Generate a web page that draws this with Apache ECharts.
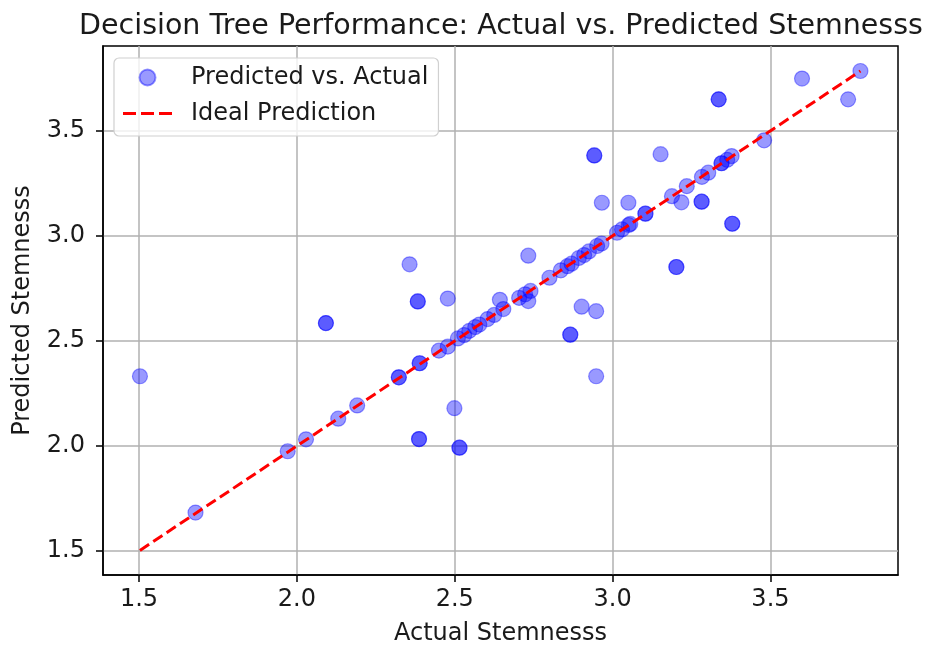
<!DOCTYPE html>
<html style="height: 100%">
<head>
    <meta charset="utf-8">
</head>
<body style="height: 100%; margin: 0; background-color: #fff">
<div id="container" style="height: 648px; width: 928px"></div>
<script type="text/javascript" src="https://cdn.jsdelivr.net/npm/echarts@6/dist/echarts.min.js"></script>
<script type="text/javascript">
// actual vs predicted stemness
var actual = [
    1.503, 2.092, 2.092, 2.357, 2.383, 2.383, 2.478, 2.387, 2.387, 2.499,
    2.515, 2.515, 2.733, 2.902, 2.948, 2.866, 2.866, 2.948, 2.942, 2.942,
    3.152, 3.336, 3.336, 3.600, 3.746, 3.202, 3.202, 3.282, 3.282, 3.379,
    3.379, 2.966, 3.050, 3.218, 2.643, 2.654, 2.733, 3.480,
    1.679, 1.971, 2.029, 2.131, 2.191, 2.323, 2.323, 2.389, 2.389, 2.450,
    2.478, 2.510, 2.530, 2.546, 2.565, 2.578, 2.604, 2.625, 2.704, 2.723,
    2.740, 2.800, 2.836, 2.857, 2.870, 2.893, 2.910, 2.925, 2.951, 2.965,
    3.014, 3.030, 3.051, 3.056, 3.104, 3.104, 3.188, 3.235, 3.283, 3.303,
    3.345, 3.345, 3.363, 3.377, 3.785
];
var predicted = [
    2.332, 2.585, 2.585, 2.865, 2.688, 2.688, 2.702, 2.033, 2.033, 2.180,
    1.992, 1.992, 2.906, 2.663, 2.642, 2.530, 2.530, 2.332, 3.383, 3.383,
    3.389, 3.650, 3.650, 3.749, 3.650, 2.852, 2.852, 3.163, 3.163, 3.058,
    3.058, 3.158, 3.158, 3.160, 2.696, 2.652, 2.690, 3.455,
    1.683, 1.975, 2.032, 2.130, 2.193, 2.327, 2.327, 2.394, 2.394, 2.454,
    2.473, 2.512, 2.528, 2.548, 2.566, 2.578, 2.604, 2.624, 2.705, 2.722,
    2.738, 2.801, 2.836, 2.856, 2.868, 2.895, 2.909, 2.926, 2.952, 2.964,
    3.015, 3.031, 3.052, 3.057, 3.106, 3.106, 3.189, 3.237, 3.281, 3.301,
    3.346, 3.346, 3.362, 3.380, 3.785
];
var idealX = [1.503, 3.785];
var idealY = [1.503, 3.785];
var xTicks = [1.5, 2.0, 2.5, 3.0, 3.5];
var yTicks = [1.5, 2.0, 2.5, 3.0, 3.5];

var dom = document.getElementById("container");
var myChart = echarts.init(dom);
var font = "'DejaVu Sans', sans-serif";
var txt = '#1a1a1a';

var pts = [];
for (var i = 0; i < actual.length; i++) {
    pts.push([actual[i], predicted[i]]);
}
var ideal = [];
for (var j = 0; j < idealX.length; j++) {
    ideal.push([idealX[j], idealY[j]]);
}

function axisOpt(name, ticks, isY) {
    return {
        type: 'value',
        name: name,
        nameLocation: 'middle',
        nameGap: isY ? 68 : 47,
        nameTextStyle: {fontFamily: font, fontSize: 24, color: txt},
        min: 1.386,
        max: 3.904,
        axisLine: {show: true, lineStyle: {color: '#000', width: 1.5}},
        axisTick: {show: true, length: 7, lineStyle: {color: '#000', width: 1.5}, customValues: ticks},
        axisLabel: {
            fontFamily: font, fontSize: 24, color: txt,
            margin: isY ? 18 : 13,
            customValues: ticks,
            formatter: function (v) { return v.toFixed(1); }
        },
        splitLine: {show: true, lineStyle: {color: '#b0b0b0', width: 1.5}}
    };
}

var option = {
    animation: false,
    title: {
        text: 'Decision Tree Performance: Actual vs. Predicted Stemnesss',
        left: 496,
        textAlign: 'center',
        top: 7,
        textStyle: {fontFamily: font, fontSize: 28.5, fontWeight: 'normal', color: txt}
    },
    grid: {
        left: 103, right: 30, top: 46, bottom: 73,
        containLabel: false,
        outerBoundsMode: 'none',
        show: true, borderColor: '#000', borderWidth: 1.5, backgroundColor: 'transparent'
    },
    legend: {
        orient: 'vertical',
        left: 114,
        top: 58,
        padding: [6, 10, 9, 9],
        itemGap: 9,
        itemWidth: 49,
        itemHeight: 16,
        backgroundColor: 'rgba(255,255,255,0.8)',
        borderColor: '#d0d0d0',
        borderWidth: 1.2,
        borderRadius: 5,
        textStyle: {fontFamily: font, fontSize: 24, color: txt, lineHeight: 27, padding: [0, 0, 0, 14]},
        data: [
            {name: 'Predicted vs. Actual', icon: 'circle'},
            {name: 'Ideal Prediction', icon: 'path://M0,0h13v3h-13z M18,0h13v3h-13z M36,0h13v3h-13z'}
        ]
    },
    xAxis: axisOpt('Actual Stemnesss', xTicks, false),
    yAxis: axisOpt('Predicted Stemnesss', yTicks, true),
    series: [
        {
            name: 'Predicted vs. Actual',
            type: 'scatter',
            symbolSize: 15,
            itemStyle: {color: 'rgba(0,0,255,0.5)', borderColor: 'rgba(0,0,255,0.5)', borderWidth: 1.2},
            data: pts,
            z: 2
        },
        {
            name: 'Ideal Prediction',
            type: 'line',
            showSymbol: false,
            symbol: 'none',
            lineStyle: {color: 'red', width: 3, type: [11, 5]},
            itemStyle: {color: 'red'},
            data: ideal,
            z: 3
        }
    ]
};
myChart.setOption(option);
</script>
</body>
</html>
